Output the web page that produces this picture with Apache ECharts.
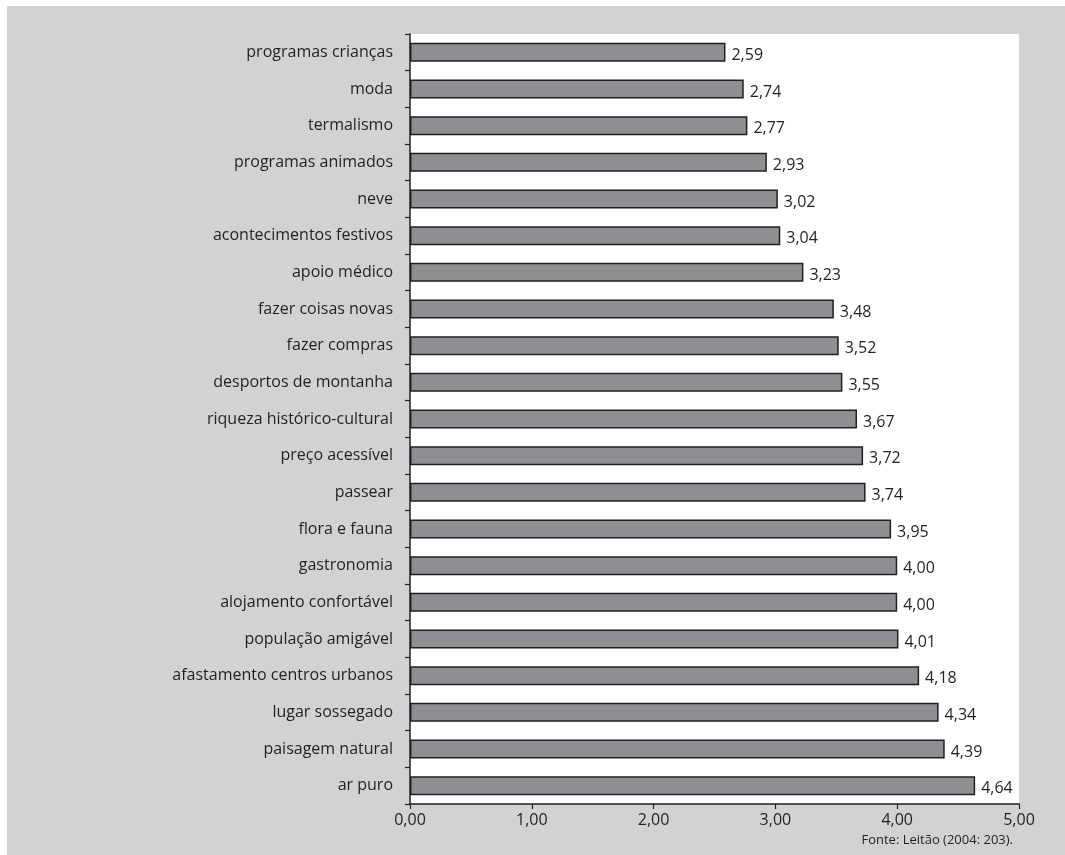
<!DOCTYPE html>
<html><head><meta charset="utf-8">
<script src="https://cdn.jsdelivr.net/npm/echarts@6/dist/echarts.min.js"></script>
<style>html,body{margin:0;padding:0;background:#fff}#c{width:1065px;height:855px}</style>
</head><body><div id="c"></div>
<script>
const categories = ["programas crianças","moda","termalismo","programas animados","neve","acontecimentos festivos","apoio médico","fazer coisas novas","fazer compras","desportos de montanha","riqueza histórico-cultural","preço acessível","passear","flora e fauna","gastronomia","alojamento confortável","população amigável","afastamento centros urbanos","lugar sossegado","paisagem natural","ar puro"];
const values = [2.59,2.74,2.77,2.93,3.02,3.04,3.23,3.48,3.52,3.55,3.67,3.72,3.74,3.95,4.00,4.00,4.01,4.18,4.34,4.39,4.64];
const xTicks = [0,1,2,3,4,5];
const sourceNote = "Fonte: Leitão (2004: 203).";

const FONT = '"Open Sans", sans-serif';
const TXT = '#231f20';
const chart = echarts.init(document.getElementById('c'), null, {renderer:'canvas'});
const fmt = v => v.toFixed(2).replace('.', ',');
chart.setOption({
  animation:false,
  backgroundColor:'#ffffff',
  graphic:[
    {type:'rect', z:-10, silent:true, shape:{x:7,y:6,width:1058,height:849}, style:{fill:'#d1d2d4'}},
    {type:'text', right:52, top:834, style:{text:sourceNote, font:'13px '+FONT, fill:TXT}}
  ],
  grid:{left:410, top:34, right:46, bottom:51, show:true, backgroundColor:'#ffffff', borderWidth:0},
  xAxis:{type:'value', min:xTicks[0], max:xTicks[xTicks.length-1], interval:1,
    axisLine:{show:true, lineStyle:{color:TXT, width:1.5}},
    axisTick:{show:true, length:5, lineStyle:{color:TXT, width:1.2}},
    splitLine:{show:false},
    axisLabel:{fontFamily:FONT, fontSize:16, color:TXT, margin:8, formatter:fmt}},
  yAxis:{type:'category', data:categories, inverse:true,
    axisLine:{show:true, lineStyle:{color:TXT, width:1.5}},
    axisTick:{show:true, length:5, lineStyle:{color:TXT, width:1.2}},
    axisLabel:{fontFamily:FONT, fontSize:16, color:TXT, margin:17}},
  series:[{type:'bar', data:values, barWidth:19,
    itemStyle:{color:'#8e8f93', borderColor:TXT, borderWidth:1.5},
    label:{show:true, position:'right', distance:6, fontFamily:FONT, fontSize:16, color:TXT, formatter:p=>fmt(p.value), offset:[0,3]}}]
});
</script></body></html>
